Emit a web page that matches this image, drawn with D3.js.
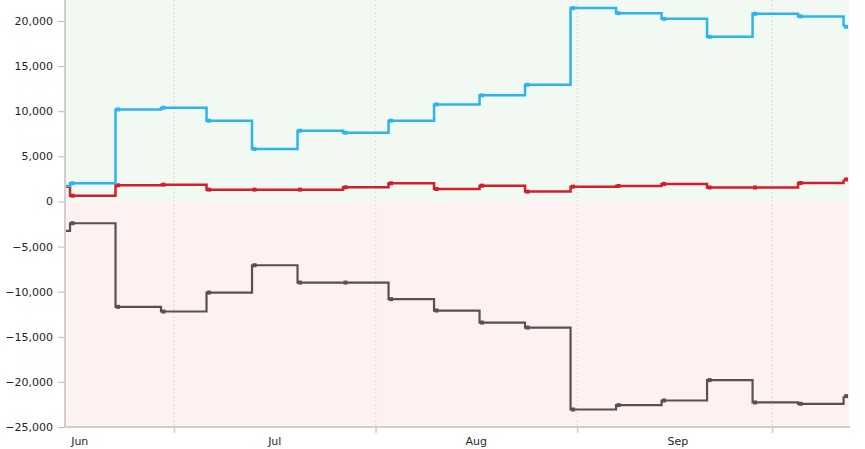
<!DOCTYPE html>
<html><head><meta charset="utf-8">
<script src="https://cdn.jsdelivr.net/npm/d3@7"></script>
<style>
html,body{margin:0;padding:0;background:#fff;}
svg{display:block;font-family:"DejaVu Sans",Verdana,sans-serif;}
</style></head>
<body><svg id="chart" width="865" height="449"></svg>
<script>
// ---- data ----
const dates = ["2023-06-08","2023-06-15","2023-06-22","2023-06-29","2023-07-06","2023-07-13","2023-07-20","2023-07-27",
  "2023-08-03","2023-08-10","2023-08-17","2023-08-24","2023-08-31","2023-09-07","2023-09-14","2023-09-21",
  "2023-09-28","2023-10-05","2023-10-12"];
const blueValues = [1720, 2020, 10200, 10390, 8950, 5810, 7840, 7620, 8950, 10760, 11760, 12930, 21430, 20870, 20240, 18250, 20800, 20510, 19360];
const redValues  = [1640, 640, 1790, 1860, 1310, 1310, 1310, 1570, 2010, 1380, 1750, 1090, 1640, 1720, 1940, 1550, 1550, 2050, 2440];
const darkValues = [-3270, -2415, -11680, -12200, -10100, -7070, -8990, -8990, -10830, -12090, -13420, -13980, -23060, -22570, -22060, -19800, -22280, -22430, -21580];
const yTicks = [-25000, -20000, -15000, -10000, -5000, 0, 5000, 10000, 15000, 20000];
const monthGrid = ["2023-07-01","2023-08-01","2023-09-01","2023-10-01"];
const monthLabels = ["Jun","Jul","Aug","Sep"];
const monthLabelDates = ["2023-06-16T12:00","2023-07-16T12:00","2023-08-16T12:00","2023-09-16T12:00"];

(function () {
const parse = s => new Date(s.length > 10 ? s + ":00Z" : s + "T00:00:00Z");

const svg = d3.select("#chart");
const pL = 65, pR = 849, pT = 0, pB = 427;

const x = d3.scaleUtc()
  .domain([parse("2023-06-14T05:30"), parse("2023-10-12T20:00")])
  .range([pL, pR]);
const y = d3.scaleLinear().domain([-25000, 22330]).range([pB, pT]);

// background bands
svg.append("rect").attr("x", pL).attr("y", y(22330)).attr("width", pR - pL)
  .attr("height", y(0) - y(22330)).attr("fill", "#f2f8f2");
svg.append("rect").attr("x", pL).attr("y", y(0)).attr("width", pR - pL)
  .attr("height", y(-25000) - y(0)).attr("fill", "#fdf1f1");

// vertical grid lines
svg.append("g").selectAll("line").data(monthGrid).join("line")
  .attr("x1", d => x(parse(d))).attr("x2", d => x(parse(d)))
  .attr("y1", pT).attr("y2", pB)
  .attr("stroke", "#e4e4e4").attr("stroke-width", 1.5).attr("stroke-dasharray", "2,2");

// clip
svg.append("clipPath").attr("id", "clip").append("rect")
  .attr("x", pL).attr("y", pT).attr("width", pR - pL + 4).attr("height", pB - pT);

const series = [
  {vals: darkValues, color: "#5e4f4f", w: 2.2},
  {vals: redValues, color: "#d21f2b", w: 2.5},
  {vals: blueValues, color: "#2bb5ef", w: 2.5}
];
const line = d3.line().curve(d3.curveStepAfter).x(d => x(d.date)).y(d => y(d.v));
const plot = svg.append("g").attr("clip-path", "url(#clip)");
series.forEach(s => {
  const pts = dates.map((d, i) => ({date: parse(d), v: s.vals[i]}));
  plot.append("path").datum(pts).attr("d", line).attr("fill", "none")
    .attr("stroke", s.color).attr("stroke-width", s.w).attr("stroke-linejoin", "miter");
  plot.append("g").selectAll("rect").data(pts.slice(1)).join("rect")
    .attr("x", d => x(d.date) + 0.5).attr("y", d => y(d.v) - 2)
    .attr("width", 4).attr("height", 4).attr("fill", s.color);
});

// y axis
const yAxis = d3.axisLeft(y).tickValues(yTicks).tickSize(6).tickPadding(5)
  .tickFormat(d3.format(","));
const gy = svg.append("g").attr("transform", `translate(${pL - 1},0)`).call(yAxis);
gy.select(".domain").remove();
gy.selectAll(".tick line").attr("stroke", "#bbb");
gy.selectAll(".tick text").attr("fill", "#1e1e2e").style("font-size", "11px").style("font-family", "'DejaVu Sans',Verdana,sans-serif");
svg.append("line").attr("x1", pL).attr("x2", pL).attr("y1", pT).attr("y2", pB + 1)
  .attr("stroke", "#cfcfcf").attr("stroke-width", 2);

// x axis
svg.append("line").attr("x1", pL - 1).attr("x2", pR + 1).attr("y1", pB).attr("y2", pB)
  .attr("stroke", "#cfcfcf").attr("stroke-width", 2);
const xAxis = d3.axisBottom(x).tickValues(monthGrid.map(parse)).tickSize(6).tickFormat("");
const gx = svg.append("g").attr("transform", `translate(0,${pB})`).call(xAxis);
gx.select(".domain").remove();
gx.selectAll(".tick line").attr("stroke", "#cfcfcf").attr("stroke-width", 1.5);
svg.append("g").selectAll("text").data(monthLabels).join("text")
  .attr("x", (d, i) => x(parse(monthLabelDates[i])))
  .attr("y", pB + 18)
  .attr("text-anchor", "middle").attr("fill", "#1e1e2e")
  .style("font-size", "11px").text(d => d);
})();
</script></body></html>
